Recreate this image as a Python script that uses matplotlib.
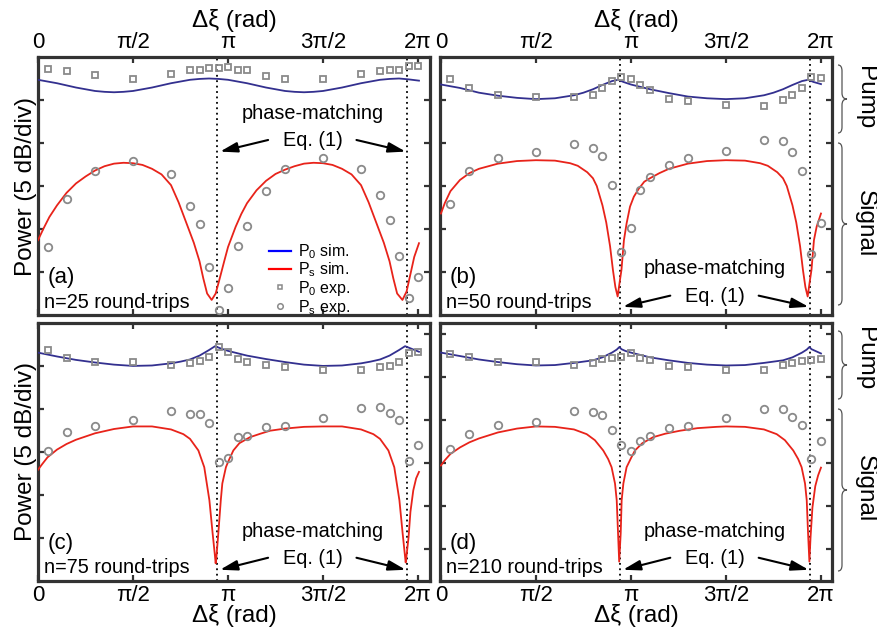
import numpy as np
import matplotlib
matplotlib.use('Agg')
import matplotlib.pyplot as plt
from matplotlib.lines import Line2D
from matplotlib.path import Path
from matplotlib.patches import PathPatch

plt.rcParams['font.family'] = ['Liberation Sans', 'DejaVu Sans']
plt.rcParams['mathtext.fontset'] = 'custom'
plt.rcParams['mathtext.rm'] = 'Liberation Sans'
plt.rcParams['mathtext.it'] = 'Liberation Sans:italic'

# all x values in units of pi, y values in divisions (5 dB/div)
x_exp = [0.05, 0.15, 0.3, 0.5, 0.7, 0.8, 0.85, 0.9, 0.95, 1.0, 1.05,
         1.1, 1.2, 1.3, 1.5, 1.7, 1.8, 1.85, 1.9, 1.95, 2.0]
pm_lines = [0.943, 1.943]
tick_pos = [0, 0.5, 1, 1.5, 2]
tick_labels = ['0', 'π/2', 'π', '3π/2', '2π']

# ---- panel (a), n=25
p0_exp_a = [5.72, 5.67, 5.58, 5.50, 5.60, 5.70, 5.70, 5.74, 5.74, 5.77, 5.69,
            5.69, 5.55, 5.50, 5.49, 5.60, 5.67, 5.70, 5.70, 5.78, 5.78]
ps_exp_a = [1.59, 2.70, 3.36, 3.57, 3.28, 2.54, 2.11, 1.11, 0.12, 0.62, 1.60,
            2.08, 2.88, 3.40, 3.64, 3.40, 2.80, 2.20, 1.38, 0.39, 0.88]
x_p0_a = [0, 0.05, 0.1, 0.15, 0.2, 0.25, 0.3, 0.35, 0.4, 0.45, 0.5, 0.55, 0.6,
          0.65, 0.7, 0.75, 0.8, 0.85, 0.9, 0.95, 1.0, 1.05, 1.1, 1.15, 1.2,
          1.25, 1.3, 1.35, 1.4, 1.45, 1.5, 1.55, 1.6, 1.65, 1.7, 1.75, 1.8,
          1.85, 1.9, 1.95, 2.005]
p0_sim_a = [5.47, 5.43, 5.39, 5.34, 5.29, 5.25, 5.21, 5.19, 5.18, 5.19, 5.21,
            5.25, 5.29, 5.34, 5.39, 5.43, 5.47, 5.49, 5.50, 5.49, 5.47, 5.43,
            5.39, 5.34, 5.29, 5.25, 5.21, 5.19, 5.18, 5.19, 5.21, 5.25, 5.29,
            5.34, 5.39, 5.43, 5.47, 5.49, 5.50, 5.48, 5.45]
x_ps_a = [0.0, 0.03, 0.06, 0.1, 0.15, 0.2, 0.25, 0.3, 0.35, 0.4, 0.45, 0.5,
          0.55, 0.6, 0.65, 0.7, 0.74, 0.78, 0.82, 0.85, 0.87, 0.89, 0.914,
          0.935, 0.954, 0.98, 1.0, 1.04, 1.07, 1.1, 1.15, 1.2, 1.25, 1.3, 1.35,
          1.4, 1.45, 1.5, 1.55, 1.6, 1.65, 1.7, 1.74, 1.78, 1.82, 1.85, 1.87,
          1.89, 1.918, 1.94, 1.96, 1.98, 2.005]
ps_sim_a = [1.74, 2.02, 2.28, 2.55, 2.84, 3.06, 3.22, 3.36, 3.46, 3.52, 3.54,
            3.53, 3.49, 3.40, 3.27, 3.02, 2.62, 2.15, 1.68, 1.25, 0.85, 0.5,
            0.35, 0.5, 0.81, 1.25, 1.58, 2.05, 2.35, 2.6, 2.9, 3.12, 3.28, 3.38,
            3.46, 3.52, 3.54, 3.53, 3.49, 3.40, 3.27, 3.02, 2.62, 2.15, 1.68,
            1.25, 0.85, 0.5, 0.35, 0.55, 0.95, 1.35, 1.67]

# ---- panel (b), n=50
p0_exp_b = [5.50, 5.28, 5.12, 5.06, 5.08, 5.11, 5.28, 5.45, 5.53, 5.50, 5.34,
            5.23, 5.03, 4.98, 4.89, 4.86, 5.00, 5.12, 5.29, 5.54, 5.51]
ps_exp_b = [2.58, 3.36, 3.64, 3.79, 3.98, 3.88, 3.69, 3.02, 1.46, 2.03, 2.90,
            3.20, 3.50, 3.66, 3.82, 4.06, 4.05, 3.78, 3.36, 1.43, 2.13]
x_p0_b = [0, 0.1, 0.2, 0.3, 0.4, 0.5, 0.6, 0.7, 0.75, 0.8, 0.85, 0.9, 0.933,
          0.96, 1.0, 1.1, 1.2, 1.3, 1.4, 1.5, 1.6, 1.7, 1.75, 1.8, 1.85, 1.9,
          1.933, 1.96, 2.0]
p0_sim_b = [5.36, 5.28, 5.17, 5.10, 5.05, 5.02, 5.04, 5.11, 5.17, 5.25, 5.35,
            5.44, 5.47, 5.42, 5.36, 5.25, 5.16, 5.08, 5.04, 5.02, 5.04, 5.11,
            5.17, 5.25, 5.35, 5.44, 5.47, 5.42, 5.37]
x_ps_b = [0, 0.02, 0.05, 0.1, 0.15, 0.2, 0.3, 0.4, 0.5, 0.6, 0.68, 0.72, 0.77,
          0.8, 0.82, 0.85, 0.87, 0.89, 0.905, 0.918, 0.93, 0.94, 0.95, 0.963,
          0.977, 0.995, 1.015, 1.04, 1.07, 1.1, 1.15, 1.2, 1.3, 1.4, 1.5, 1.6,
          1.68, 1.72, 1.77, 1.8, 1.82, 1.85, 1.87, 1.89, 1.905, 1.918, 1.93,
          1.94, 1.95, 1.963, 1.977, 2.0]
ps_sim_b = [2.36, 2.6, 2.88, 3.14, 3.30, 3.40, 3.52, 3.58, 3.60, 3.59, 3.53,
            3.47, 3.32, 3.18, 3.0, 2.55, 2.15, 1.6, 1.05, 0.65, 0.43, 0.75,
            1.05, 1.74, 2.13, 2.52, 2.75, 2.93, 3.1, 3.18, 3.30, 3.40, 3.52,
            3.58, 3.60, 3.59, 3.53, 3.47, 3.32, 3.18, 3.0, 2.55, 2.15, 1.6,
            1.05, 0.65, 0.43, 0.75, 1.05, 1.74, 2.05, 2.36]

# ---- panel (c), n=75
p0_exp_c = [5.37, 5.19, 5.10, 5.09, 5.03, 5.06, 5.12, 5.20, 5.43, 5.33, 5.17,
            5.09, 5.03, 4.98, 4.91, 4.90, 4.98, 5.00, 5.09, 5.31, 5.33]
ps_exp_c = [3.02, 3.46, 3.59, 3.73, 3.95, 3.88, 3.88, 3.68, 2.76, 2.85, 3.34,
            3.36, 3.58, 3.59, 3.79, 4.02, 4.04, 3.91, 3.75, 2.79, 3.15]
x_p0_c = [0, 0.1, 0.2, 0.3, 0.4, 0.5, 0.6, 0.7, 0.75, 0.8, 0.85, 0.9, 0.932,
          0.96, 1.0, 1.1, 1.2, 1.3, 1.4, 1.5, 1.6, 1.7, 1.75, 1.8, 1.85, 1.9,
          1.932, 1.96, 2.005]
p0_sim_c = [5.31, 5.22, 5.14, 5.08, 5.03, 5.0, 5.01, 5.06, 5.10, 5.15, 5.24,
            5.37, 5.46, 5.41, 5.35, 5.24, 5.16, 5.09, 5.03, 5.0, 5.01, 5.06,
            5.10, 5.15, 5.24, 5.37, 5.46, 5.41, 5.33]
x_ps_c = [0, 0.02, 0.05, 0.1, 0.15, 0.2, 0.3, 0.4, 0.5, 0.6, 0.7, 0.765, 0.8,
          0.844, 0.875, 0.902, 0.919, 0.93, 0.935, 0.94, 0.949, 0.962, 0.97,
          0.989, 1.0, 1.028, 1.06, 1.116, 1.17, 1.221, 1.3, 1.4, 1.5, 1.6, 1.7,
          1.765, 1.8, 1.844, 1.875, 1.902, 1.919, 1.93, 1.935, 1.94, 1.95,
          1.96, 1.975, 1.99, 2.005]
ps_sim_c = [2.58, 2.7, 2.87, 3.05, 3.18, 3.28, 3.43, 3.53, 3.59, 3.59, 3.52,
            3.41, 3.3, 3.03, 2.64, 1.87, 1.10, 0.63, 0.40, 0.6, 1.10, 1.87,
            2.26, 2.64, 2.76, 3.03, 3.2, 3.34, 3.42, 3.49, 3.54, 3.58, 3.59,
            3.59, 3.52, 3.41, 3.3, 3.03, 2.64, 1.87, 1.10, 0.63, 0.42, 0.6,
            1.0, 1.6, 2.1, 2.38, 2.53]

# ---- panel (d), n=210
p0_exp_d = [5.28, 5.20, 5.10, 5.10, 5.03, 5.07, 5.15, 5.19, 5.20, 5.31, 5.19,
            5.14, 5.00, 4.98, 4.90, 4.91, 5.03, 5.07, 5.12, 5.14, 5.17]
ps_exp_d = [3.07, 3.42, 3.62, 3.70, 3.96, 3.92, 3.85, 3.51, 3.15, 3.02, 3.24,
            3.37, 3.55, 3.60, 3.78, 4.00, 4.00, 3.81, 3.62, 2.84, 3.26]
x_p0_d = [0, 0.1, 0.2, 0.3, 0.4, 0.5, 0.6, 0.7, 0.8, 0.85, 0.9, 0.925, 0.939,
          0.95, 0.97, 1.0, 1.1, 1.2, 1.3, 1.4, 1.5, 1.6, 1.7, 1.8, 1.85, 1.9,
          1.925, 1.939, 1.95, 1.97, 2.0]
p0_sim_d = [5.31, 5.23, 5.15, 5.09, 5.04, 5.01, 5.02, 5.07, 5.13, 5.20, 5.31,
            5.38, 5.44, 5.39, 5.35, 5.31, 5.20, 5.13, 5.07, 5.03, 5.01, 5.02,
            5.07, 5.13, 5.20, 5.31, 5.38, 5.44, 5.39, 5.35, 5.29]
x_ps_d = [0, 0.02, 0.05, 0.1, 0.15, 0.2, 0.3, 0.4, 0.5, 0.6, 0.7, 0.767, 0.81,
          0.854, 0.88, 0.898, 0.916, 0.925, 0.932, 0.938, 0.946, 0.951, 0.96,
          0.977, 1.0, 1.021, 1.06, 1.117, 1.18, 1.258, 1.35, 1.45, 1.5, 1.6,
          1.7, 1.767, 1.81, 1.854, 1.88, 1.898, 1.916, 1.925, 1.932, 1.939,
          1.945, 1.955, 1.97, 1.985, 2.0]
ps_sim_d = [2.68, 2.8, 2.95, 3.1, 3.22, 3.31, 3.45, 3.54, 3.59, 3.58, 3.52,
            3.41, 3.27, 3.03, 2.83, 2.64, 2.26, 1.87, 1.1, 0.44, 1.1, 1.87,
            2.26, 2.64, 2.85, 3.03, 3.2, 3.34, 3.42, 3.49, 3.55, 3.58, 3.59,
            3.58, 3.52, 3.41, 3.27, 3.03, 2.83, 2.64, 2.26, 1.87, 1.1, 0.44,
            1.0, 1.7, 2.2, 2.45, 2.63]

BLUE = '#33308f'
RED = '#e8231a'
GRAY = '#8a8a8a'
FRAME = '#333333'
PI = np.pi
W, H = 877, 633

fig = plt.figure(figsize=(8.77, 6.33), dpi=100)


def rect(l, t, r, b):
    return [l / W, 1 - b / H, (r - l) / W, (b - t) / H]


def draw_panel(ax, x_p0, p0_sim, x_ps, ps_sim, p0_exp, ps_exp, xlim):
    ax.plot(np.array(x_p0) * PI, p0_sim, color=BLUE, lw=1.3, zorder=3)
    ax.plot(np.array(x_ps) * PI, ps_sim, color=RED, lw=1.3, zorder=3)
    ax.plot(np.array(x_exp) * PI, p0_exp, ls='none', marker='s', ms=4.2,
            mfc='none', mec=GRAY, mew=1.3, zorder=4)
    ax.plot(np.array(x_exp) * PI, ps_exp, ls='none', marker='o', ms=5.4,
            mfc='none', mec=GRAY, mew=1.3, zorder=4)
    for xv in pm_lines:
        ax.axvline(xv * PI, color='black', lw=1.3, ls=(0, (1, 2)), zorder=2)
    ax.set_xlim(xlim[0] * PI, xlim[1] * PI)
    ax.set_ylim(0, 6)
    ax.set_xticks(np.array(tick_pos) * PI)
    ax.set_xticklabels(tick_labels)
    for sp in ax.spines.values():
        sp.set_linewidth(2.3)
        sp.set_color(FRAME)
    ax.tick_params(direction='in', length=4, width=1.6, color=FRAME,
                   top=True, bottom=True, left=True, right=True,
                   labelleft=False, labelsize=16, pad=3)


def annotate_pm(ax, y_text, y_eq, y_tail, y_head, x_mid):
    ax.text(x_mid * PI, y_text, 'phase-matching', ha='center', va='center',
            fontsize=14.3)
    ax.text(x_mid * PI, y_eq, 'Eq. (1)', ha='center', va='center',
            fontsize=14.3)
    aprops = dict(arrowstyle='-|>,head_length=0.75,head_width=0.22',
                  color='black', lw=1.5, mutation_scale=14,
                  shrinkA=0, shrinkB=0)
    ax.annotate('', xy=(0.958 * PI, y_head), xytext=((x_mid - 0.235) * PI, y_tail),
                arrowprops=aprops)
    ax.annotate('', xy=(1.935 * PI, y_head), xytext=((x_mid + 0.23) * PI, y_tail),
                arrowprops=aprops)


ax_a = fig.add_axes(rect(38, 57, 430, 315))
ax_b = fig.add_axes(rect(440, 57, 832, 315))
ax_c = fig.add_axes(rect(38, 323, 430, 580.5))
ax_d = fig.add_axes(rect(440, 323, 832, 580.5))

draw_panel(ax_a, x_p0_a, p0_sim_a, x_ps_a, ps_sim_a, p0_exp_a, ps_exp_a, (0, 2.063))
draw_panel(ax_b, x_p0_b, p0_sim_b, x_ps_b, ps_sim_b, p0_exp_b, ps_exp_b, (-0.005, 2.058))
draw_panel(ax_c, x_p0_c, p0_sim_c, x_ps_c, ps_sim_c, p0_exp_c, ps_exp_c, (0, 2.063))
draw_panel(ax_d, x_p0_d, p0_sim_d, x_ps_d, ps_sim_d, p0_exp_d, ps_exp_d, (-0.005, 2.058))

# y ticks: upper panels regular, lower panels shifted on the inner edges
for ax in (ax_a, ax_b):
    ax.set_yticks([1, 2, 3, 4, 5])
ax_c.set_yticks([1, 2, 3, 4, 5])
ax_c.tick_params(right=False)
shifted = [0.74, 1.74, 2.74, 3.74, 4.74, 5.74]
ax_d.set_yticks(shifted)
ax_cr = ax_c.twinx()
ax_cr.set_ylim(0, 6)
ax_cr.set_yticks(shifted)
ax_cr.tick_params(direction='in', length=4, width=1.6, color=FRAME,
                  labelright=False)
for sp in ax_cr.spines.values():
    sp.set_visible(False)

# x labels
for ax in (ax_a, ax_b):
    ax.tick_params(labeltop=True, labelbottom=False)
    ax.xaxis.set_label_position('top')
    ax.set_xlabel('Δξ (rad)', fontsize=17.5, labelpad=3.5)
for ax in (ax_c, ax_d):
    ax.set_xlabel('Δξ (rad)', fontsize=17.5, labelpad=-1)
for ax in (ax_a, ax_c):
    ax.set_ylabel('Power (5 dB/div)', fontsize=17.5, labelpad=0.5)

annotate_pm(ax_a, 4.69, 4.05, 4.07, 3.80, 1.446)
annotate_pm(ax_b, 1.09, 0.44, 0.45, 0.19, 1.442)
annotate_pm(ax_c, 1.15, 0.51, 0.53, 0.25, 1.446)
annotate_pm(ax_d, 1.15, 0.51, 0.53, 0.25, 1.442)

for ax, tag, nrt in ((ax_a, '(a)', 'n=25 round-trips'),
                     (ax_b, '(b)', 'n=50 round-trips'),
                     (ax_c, '(c)', 'n=75 round-trips'),
                     (ax_d, '(d)', 'n=210 round-trips')):
    ax.text(0.024, 0.145, tag, transform=ax.transAxes, ha='left',
            va='center', fontsize=16)
    ax.text(0.016, 0.05, nrt, transform=ax.transAxes, ha='left',
            va='center', fontsize=14.3)

handles = [Line2D([], [], color='#0000ff', lw=1.6),
           Line2D([], [], color='#ff0000', lw=1.6),
           Line2D([], [], ls='none', marker='s', ms=3, mfc='none', mec=GRAY, mew=1.1),
           Line2D([], [], ls='none', marker='o', ms=4, mfc='none', mec=GRAY, mew=1.1)]
labels = ['P$_0$ sim.', 'P$_\\mathrm{s}$ sim.', 'P$_0$ exp.', 'P$_\\mathrm{s}$ exp.']
ax_a.legend(handles, labels, loc='upper left', bbox_to_anchor=(0.59, 0.282),
            frameon=False, fontsize=11.5, handlelength=1.35,
            handletextpad=0.45, labelspacing=-0.02, borderpad=0,
            borderaxespad=0)

# braces and the Pump / Signal labels on the right
ov = fig.add_axes([0, 0, 1, 1], zorder=-1)
ov.set_xlim(0, W)
ov.set_ylim(H, 0)
ov.axis('off')


def brace(x, y0, y1, c=4, t=5, r=6):
    ym = (y0 + y1) / 2
    verts = [(x - c, y0), (x, y0), (x, y0 + r), (x, ym - r), (x, ym),
             (x + t, ym), (x, ym), (x, ym + r), (x, y1 - r), (x, y1),
             (x - c, y1)]
    codes = [Path.MOVETO, Path.CURVE3, Path.CURVE3, Path.LINETO, Path.CURVE3,
             Path.CURVE3, Path.CURVE3, Path.CURVE3, Path.LINETO, Path.CURVE3,
             Path.CURVE3]
    ov.add_patch(PathPatch(Path(verts, codes), fill=False, ec='#555555', lw=0.9))


for top in (0, 266):
    brace(842, 65 + top, 133 + top)
    brace(842, 143 + top, 305 + top)
fig.text(865 / W, 1 - 98 / H, 'Pump', rotation=-90, ha='center', va='center', fontsize=17.5)
fig.text(865 / W, 1 - 224 / H, 'Signal', rotation=-90, ha='center', va='center', fontsize=17.5)
fig.text(865 / W, 1 - 359 / H, 'Pump', rotation=-90, ha='center', va='center', fontsize=17.5)
fig.text(865 / W, 1 - 489 / H, 'Signal', rotation=-90, ha='center', va='center', fontsize=17.5)

fig.savefig('out.png', dpi=100)
